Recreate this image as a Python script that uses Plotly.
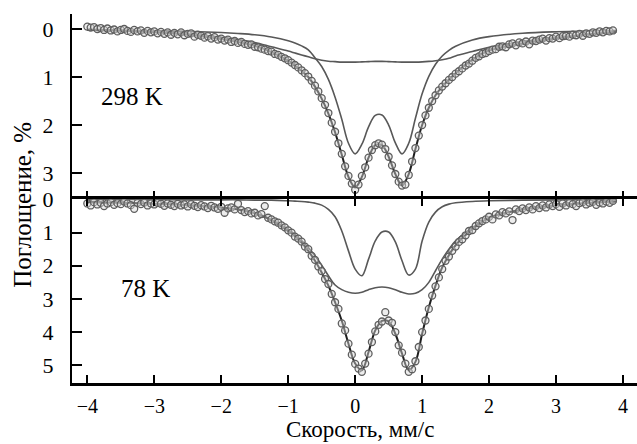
import plotly.graph_objects as go

# ---------------- data ----------------
v_data = [round(-4.0 + 0.05 * i, 2) for i in range(158)]  # channel velocities, mm/s

top_data = [
    -0.05, -0.03, -0.04, 0.0, -0.02, 0.02, -0.01, 0.03, 0.01, 0.05,
    0.02, 0.0, 0.04, 0.06, 0.02, 0.05, 0.03, 0.08, 0.04, 0.07,
    0.05, 0.09, 0.06, 0.10, 0.07, 0.12, 0.08, 0.11, 0.07, 0.13,
    0.10, 0.09, 0.16, 0.12, 0.14, 0.18, 0.15, 0.20, 0.17, 0.22,
    0.20, 0.24, 0.22, 0.27, 0.25, 0.29, 0.27, 0.31, 0.33, 0.32,
    0.37, 0.38, 0.41, 0.43, 0.46, 0.47, 0.52, 0.54, 0.58, 0.61,
    0.65, 0.70, 0.75, 0.80, 0.86, 0.92, 0.99, 1.08, 1.18, 1.30,
    1.44, 1.58, 1.75, 1.95, 2.14, 2.38, 2.60, 2.86, 3.06, 3.22,
    3.35, 3.24, 3.06, 2.88, 2.68, 2.52, 2.42, 2.38, 2.41, 2.50,
    2.66, 2.84, 3.02, 3.18, 3.26, 3.24, 3.04, 2.76, 2.48, 2.22,
    2.00, 1.80, 1.64, 1.50, 1.38, 1.28, 1.20, 1.13, 1.06, 1.00,
    0.93, 0.88, 0.82, 0.76, 0.72, 0.66, 0.60, 0.57, 0.52, 0.50,
    0.46, 0.43, 0.42, 0.37, 0.36, 0.38, 0.32, 0.30, 0.34, 0.28,
    0.30, 0.26, 0.32, 0.24, 0.25, 0.22, 0.20, 0.24, 0.19, 0.20,
    0.16, 0.19, 0.15, 0.14, 0.16, 0.12, 0.13, 0.10, 0.14, 0.09,
    0.10, 0.07, 0.08, 0.05, 0.07, 0.04, 0.05, 0.03,
]

bot_data = [
    0.12, 0.18, 0.08, 0.15, 0.10, 0.20, 0.12, 0.08, 0.16, 0.11,
    0.14, 0.06, 0.12, 0.17, 0.28, 0.10, 0.14, 0.09, 0.18, 0.12,
    0.15, 0.10, 0.13, 0.19, 0.12, 0.16, 0.20, 0.13, 0.18, 0.15,
    0.21, 0.14, 0.19, 0.23, 0.17, 0.21, 0.26, 0.19, 0.24, 0.28,
    0.22, 0.40, 0.27, 0.24, 0.30, 0.13, 0.32, 0.38, 0.35, 0.42,
    0.40, 0.48, 0.44, 0.20, 0.55, 0.60, 0.66, 0.70, 0.78, 0.84,
    0.93, 1.00, 1.12, 1.18, 1.27, 1.42, 1.50, 1.70, 1.82, 2.02,
    2.16, 2.40, 2.55, 2.85, 3.10, 3.30, 3.74, 3.95, 4.35, 4.68,
    4.96, 5.10, 5.20, 4.95, 4.65, 4.30, 3.98, 3.78, 3.68, 3.40,
    3.65, 3.72, 4.00, 4.40, 4.62, 4.95, 5.20, 5.12, 4.88, 4.45,
    4.00, 3.65, 3.30, 2.90, 2.62, 2.35, 2.10, 1.85, 1.72, 1.55,
    1.42, 1.28, 1.20, 1.08, 0.95, 0.92, 0.80, 0.72, 0.65, 0.60,
    0.52, 0.60, 0.45, 0.48, 0.38, 0.42, 0.36, 0.62, 0.30, 0.35,
    0.27, 0.32, 0.24, 0.30, 0.20, 0.26, 0.18, 0.24, 0.15, 0.20,
    0.14, 0.22, 0.12, 0.18, 0.10, 0.14, 0.20, 0.11, 0.08, 0.15,
    0.10, 0.07, 0.16, 0.09, 0.12, 0.06, 0.10, 0.04,
]

v_fit = [-4.0, -3.5, -3.0, -2.5, -2.0, -1.75, -1.5, -1.25, -1.0, -0.9,
         -0.8, -0.7, -0.6, -0.5, -0.4, -0.3, -0.2, -0.1, 0.0, 0.1,
         0.2, 0.3, 0.4, 0.5, 0.6, 0.7, 0.8, 0.9, 1.0, 1.1,
         1.2, 1.3, 1.4, 1.5, 1.75, 2.0, 2.5, 3.0, 3.5, 3.9]

top_total = [0.01, 0.03, 0.07, 0.12, 0.21, 0.27, 0.35, 0.48, 0.66, 0.76,
             0.87, 1.00, 1.20, 1.45, 1.76, 2.15, 2.62, 3.08, 3.30, 3.08,
             2.68, 2.42, 2.42, 2.66, 3.02, 3.26, 3.02, 2.50, 2.00, 1.64,
             1.38, 1.20, 1.06, 0.92, 0.64, 0.45, 0.30, 0.20, 0.11, 0.06]

top_narrow = [0.021, 0.026, 0.035, 0.049, 0.073, 0.093, 0.12, 0.166, 0.243, 0.29,
              0.351, 0.433, 0.60, 0.78, 1.05, 1.42, 1.88, 2.38, 2.60, 2.40,
              2.04, 1.80, 1.79, 2.00, 2.37, 2.60, 2.38, 1.86, 1.35, 0.985,
              0.734, 0.563, 0.444, 0.358, 0.228, 0.158, 0.089, 0.057, 0.04, 0.031]

top_broad = [0.02, 0.04, 0.06, 0.10, 0.17, 0.22, 0.28, 0.37, 0.46, 0.50,
             0.54, 0.58, 0.62, 0.65, 0.67, 0.68, 0.69, 0.69, 0.69, 0.685,
             0.68, 0.675, 0.675, 0.68, 0.685, 0.69, 0.69, 0.69, 0.685, 0.675,
             0.66, 0.64, 0.61, 0.56, 0.47, 0.38, 0.26, 0.17, 0.10, 0.05]

bot_total = [0.08, 0.10, 0.13, 0.17, 0.24, 0.30, 0.42, 0.62, 0.95, 1.10,
             1.30, 1.55, 1.85, 2.20, 2.60, 3.10, 3.66, 4.35, 4.95, 5.15,
             4.60, 3.95, 3.66, 3.68, 4.05, 4.65, 5.15, 4.90, 4.05, 3.25,
             2.60, 2.05, 1.68, 1.38, 0.90, 0.55, 0.30, 0.17, 0.10, 0.06]

bot_narrow = [0.0, 0.0, 0.0, 0.01, 0.01, 0.01, 0.02, 0.02, 0.04, 0.05,
              0.06, 0.08, 0.11, 0.17, 0.30, 0.52, 0.95, 1.55, 2.10, 2.30,
              1.80, 1.25, 0.98, 0.98, 1.28, 1.85, 2.28, 2.10, 1.25, 0.68,
              0.38, 0.22, 0.14, 0.10, 0.06, 0.04, 0.02, 0.01, 0.01, 0.0]

bot_broad = [0.08, 0.10, 0.13, 0.17, 0.24, 0.30, 0.40, 0.60, 0.90, 1.05,
             1.24, 1.45, 1.70, 1.98, 2.30, 2.58, 2.72, 2.80, 2.83, 2.80,
             2.72, 2.66, 2.64, 2.66, 2.72, 2.80, 2.85, 2.83, 2.72, 2.50,
             2.15, 1.80, 1.50, 1.25, 0.85, 0.56, 0.30, 0.18, 0.11, 0.07]

x_ticks = [-4, -3, -2, -1, 0, 1, 2, 3, 4]
top_yticks = [0, 1, 2, 3]
bot_yticks = [0, 1, 2, 3, 4, 5]

# ---------------- figure ----------------
FONT = "Liberation Serif"
comp_line = dict(color="#585858", width=1.6, shape="spline")
tot_line = dict(color="#1e1e1e", width=2.0, shape="spline")
marker = dict(symbol="circle", size=7, color="rgba(215,215,215,0.45)",
              line=dict(color="#5e5e5e", width=1.3))

fig = go.Figure()
for xa, ya, data, tot, nar, brd in [
    ("x", "y", top_data, top_total, top_narrow, top_broad),
    ("x2", "y2", bot_data, bot_total, bot_narrow, bot_broad),
]:
    fig.add_trace(go.Scatter(x=v_fit, y=nar, mode="lines", line=comp_line,
                             xaxis=xa, yaxis=ya, hoverinfo="skip"))
    fig.add_trace(go.Scatter(x=v_fit, y=brd, mode="lines", line=comp_line,
                             xaxis=xa, yaxis=ya, hoverinfo="skip"))
    fig.add_trace(go.Scatter(x=v_fit, y=tot, mode="lines", line=tot_line,
                             xaxis=xa, yaxis=ya, hoverinfo="skip"))
    fig.add_trace(go.Scatter(x=v_data, y=data, mode="markers", marker=marker,
                             xaxis=xa, yaxis=ya))

xrange = [-4.229, 4.209]
common_x = dict(range=xrange, tickvals=x_ticks, showgrid=False, zeroline=False,
                linecolor="black", linewidth=2.5,
                ticks="inside", ticklen=8, tickwidth=2, tickcolor="black")
common_y = dict(showgrid=False, zeroline=False, showline=True, linecolor="black",
                linewidth=2, ticks="inside", ticklen=10, tickwidth=2,
                tickcolor="black", ticklabelstandoff=12,
                tickfont=dict(family=FONT, size=22, color="black"))

fig.update_layout(
    width=637, height=444,
    margin=dict(l=72, r=0, t=14, b=61),
    paper_bgcolor="white", plot_bgcolor="white",
    showlegend=False,
    font=dict(family=FONT, color="black"),
    xaxis=dict(**common_x, domain=[0, 1], anchor="y", showline=False,
               showticklabels=False),
    yaxis=dict(**common_y, domain=[0.5, 1], anchor="x", range=[3.53, -0.3125],
               tickvals=top_yticks),
    xaxis2=dict(**common_x, domain=[0, 1], anchor="y2", showline=True,
                mirror="allticks", showticklabels=True, ticklabelstandoff=3,
                tickfont=dict(family=FONT, size=20, color="black")),
    yaxis2=dict(**common_y, domain=[0, 0.5], anchor="x2", range=[5.536, -0.03],
                tickvals=bot_yticks),
    annotations=[
        dict(text="298 K", x=-3.82, y=1.4, xref="x", yref="y", xanchor="left",
             yanchor="middle", showarrow=False,
             font=dict(family=FONT, size=25, color="black")),
        dict(text="78 K", x=-3.52, y=2.70, xref="x2", yref="y2", xanchor="left",
             yanchor="middle", showarrow=False,
             font=dict(family=FONT, size=25, color="black")),
        dict(text="Поглощение, %", x=-0.089, y=0.482, xref="paper", yref="paper",
             textangle=-90, xanchor="center", yanchor="middle", showarrow=False,
             font=dict(family=FONT, size=25, color="black")),
        dict(text="Скорость, мм/с", x=0.51, y=-0.1653, xref="paper", yref="paper",
             xanchor="center", yanchor="bottom", showarrow=False,
             font=dict(family=FONT, size=23, color="black")),
    ],
)

fig.write_html("out.html")
